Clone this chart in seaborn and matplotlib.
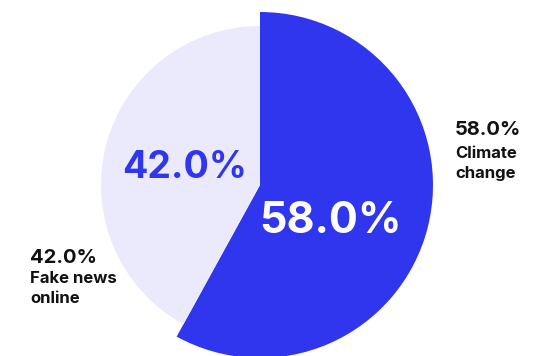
import matplotlib
matplotlib.use("Agg")
import matplotlib.pyplot as plt
import seaborn as sns

# Share of respondents by topic
topics = ["Climate change", "Fake news online"]
shares = [58.0, 42.0]
slice_colors = ["#3036EE", "#EAEAFC"]
inner_text_colors = ["white", "#3036EE"]

sns.set_theme(style="white")
plt.rcParams["font.family"] = ["Inter", "DejaVu Sans"]

H = 356
fig = plt.figure(figsize=(5.39, 3.56), dpi=100)
ax = fig.add_axes([0, 0, 1, 1])

center = (260, H - 185)
wedges, _ = ax.pie(shares, colors=slice_colors, startangle=90, counterclock=False,
                   center=center, radius=173, frame=True,
                   wedgeprops=dict(linewidth=0, edgecolor="none"))
# the smaller share is drawn with a slightly smaller radius
wedges[1].set_radius(159)

ax.set_xlim(0, 539)
ax.set_ylim(0, H)
ax.set_aspect("equal")
ax.axis("off")

dark = "#111111"

# values inside the slices
ax.text(331, H - 233, f"{shares[0]:.1f}%", color=inner_text_colors[0], fontsize=31,
        fontweight="bold", ha="center", va="baseline")
ax.text(185, H - 178, f"{shares[1]:.1f}%", color=inner_text_colors[1], fontsize=27,
        fontweight="bold", ha="center", va="baseline")

# outside labels: value, then the topic split over two lines
label_pos = [(455, [135, 158, 178]), (30, [263, 283, 303])]
topic_lines = [["Climate", "change"], ["Fake news", "online"]]
for share, (x, baselines), lines in zip(shares, label_pos, topic_lines):
    ax.text(x, H - baselines[0], f"{share:.1f}%", color=dark, fontsize=14.5,
            fontweight="bold", ha="left", va="baseline")
    for line, b in zip(lines, baselines[1:]):
        ax.text(x, H - b, line, color=dark, fontsize=12,
                fontweight="bold", ha="left", va="baseline")

fig.savefig("out.png", dpi=100)
